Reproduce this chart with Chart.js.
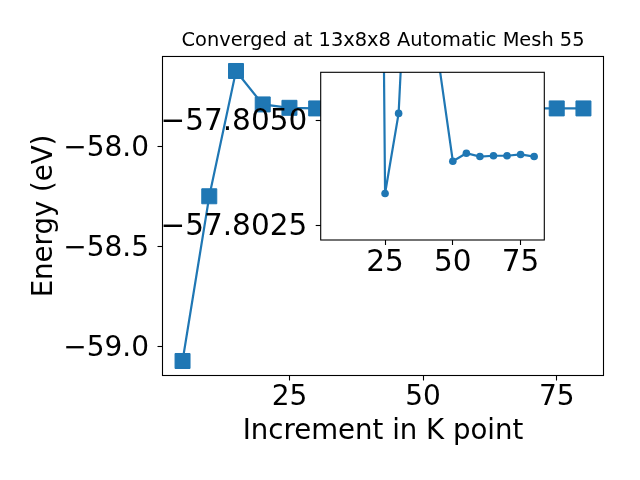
<!DOCTYPE html>
<html>
<head>
<meta charset="utf-8">
<script src="https://cdn.jsdelivr.net/npm/chart.js@4.4.0/dist/chart.umd.min.js"></script>
<style>
  html,body{margin:0;padding:0;background:#fff}
  #wrap{position:relative;width:640px;height:480px;overflow:hidden}
  #main{position:absolute;left:0;top:0}
  #inset{position:absolute;left:150px;top:60px}
</style>
</head>
<body>
<div id="wrap">
  <canvas id="main" width="640" height="480"></canvas>
  <canvas id="inset" width="400" height="230"></canvas>
</div>
<script>
// main plot: energy per k-point increment
const kPoints = [5,10,15,20,25,30,35,40,45,50,55,60,65,70,75,80];
const energy  = [-59.070,-58.247,-57.621,-57.788,-57.805,-57.808,-57.808,-57.808,-57.808,-57.808,-57.808,-57.808,-57.808,-57.808,-57.808,-57.808];
const xTicks = [25,50,75];
const xTickLabels = ['25','50','75'];
const yTicks = [-59.0,-58.5,-58.0];
const yTickLabels = ['\u221259.0','\u221258.5','\u221258.0'];

// inset (zoomed view, y axis runs downward as labelled)
const insetK = [20,25,30,35,40,45,50,55,60,65,70,75,80];
const insetEnergy = [-57.8400,-57.80327,-57.80518,-57.8118,-57.8100,-57.80631,-57.80404,-57.80423,-57.80415,-57.80417,-57.80417,-57.80420,-57.80415];
const insetYTicks = [-57.8050,-57.8025];
const insetYTickLabels = ['\u221257.8050','\u221257.8025'];

const FONT = "'DejaVu Sans', sans-serif";
const BLUE = '#1f77b4';

function pts(xs, ys){ return xs.map((x,i)=>({x:x, y:ys[i]})); }
function fixTicks(vals){ return s => { s.ticks = vals.map(v=>({value:v})); }; }
function noPad(s){ s.paddingTop = 0; s.paddingBottom = 0; s.paddingLeft = 0; s.paddingRight = 0; }

const frame = {
  id:'frame',
  beforeDraw(chart, args, opts){
    if(!opts.fill) return;
    const a = chart.chartArea, c = chart.ctx;
    c.save(); c.fillStyle = '#fff'; c.fillRect(a.left, a.top, a.right-a.left, a.bottom-a.top); c.restore();
  },
  afterDraw(chart){
    const a = chart.chartArea, c = chart.ctx;
    c.save(); c.strokeStyle = '#000'; c.lineWidth = 1.1;
    c.strokeRect(a.left, a.top, a.right-a.left, a.bottom-a.top); c.restore();
  }
};

function axis(extra){
  return Object.assign({
    type:'linear',
    border:{display:false},
    grid:{display:true, drawOnChartArea:false, drawTicks:true, tickLength:5, tickColor:'#000', tickWidth:1.1},
  }, extra);
}

new Chart(document.getElementById('main').getContext('2d'), {
  type:'line',
  data:{ datasets:[{
    data: pts(kPoints, energy),
    borderColor:BLUE, backgroundColor:BLUE, borderWidth:2.2,
    pointStyle:'rect', pointRadius:10.6, pointBorderWidth:1, pointBorderColor:BLUE, tension:0
  }]},
  options:{
    responsive:false, animation:false, devicePixelRatio:1,
    layout:{ padding:{ left:0, right:36.5, top:0, bottom:0 } },
    plugins:{
      legend:{display:false}, tooltip:{enabled:false},
      title:{ display:true, fullSize:false, text:'Converged at 13x8x8 Automatic Mesh 55', color:'#000',
        font:{family:FONT, size:19.4, weight:'normal'}, padding:{top:29.3, bottom:3.9} },
      frame:{fill:false}
    },
    scales:{
      x: axis({ min:1.25, max:83.75,
        afterBuildTicks: fixTicks(xTicks),
        afterFit: s => { s.height = 104.5; noPad(s); },
        ticks:{ color:'#000', padding:0, font:{family:FONT, size:28}, maxRotation:0, callback:(v,i)=>xTickLabels[i] },
        title:{ display:true, text:'Increment in K point', color:'#000', font:{family:FONT, size:27.6}, padding:{top:0, bottom:32} }
      }),
      y: axis({ min:-59.1425, max:-57.5485,
        afterBuildTicks: fixTicks(yTicks),
        afterFit: s => { s.width = 162.5; noPad(s); },
        ticks:{ color:'#000', padding:8.5, labelOffset:1.5, font:{family:FONT, size:28}, callback:(v,i)=>yTickLabels[i] },
        title:{ display:true, text:'Energy (eV)', color:'#000', font:{family:FONT, size:27.6}, padding:{top:28, bottom:0} }
      })
    }
  },
  plugins:[frame]
});

new Chart(document.getElementById('inset').getContext('2d'), {
  type:'line',
  data:{ datasets:[{
    data: pts(insetK, insetEnergy),
    borderColor:BLUE, backgroundColor:BLUE, borderWidth:2.2, clip:0,
    pointStyle:'circle', pointRadius:3.8, pointBorderWidth:0, tension:0
  }]},
  options:{
    responsive:false, animation:false, devicePixelRatio:1,
    layout:{ padding:{ left:0, right:5.7, top:12.3, bottom:0 } },
    plugins:{ legend:{display:false}, tooltip:{enabled:false}, frame:{fill:true} },
    scales:{
      x: axis({ min:1.25, max:83.75,
        afterBuildTicks: fixTicks(xTicks),
        afterFit: s => { s.height = 50; noPad(s); },
        ticks:{ color:'#000', padding:1, font:{family:FONT, size:29.5}, maxRotation:0, callback:(v,i)=>xTickLabels[i] }
      }),
      y: axis({ min:-57.80616, max:-57.80216, reverse:true,
        afterBuildTicks: fixTicks(insetYTicks),
        afterFit: s => { s.width = 170.7; noPad(s); },
        ticks:{ color:'#000', padding:8.5, labelOffset:1.5, font:{family:FONT, size:29.5}, callback:(v,i)=>insetYTickLabels[i] }
      })
    }
  },
  plugins:[frame]
});
</script>
</body>
</html>
